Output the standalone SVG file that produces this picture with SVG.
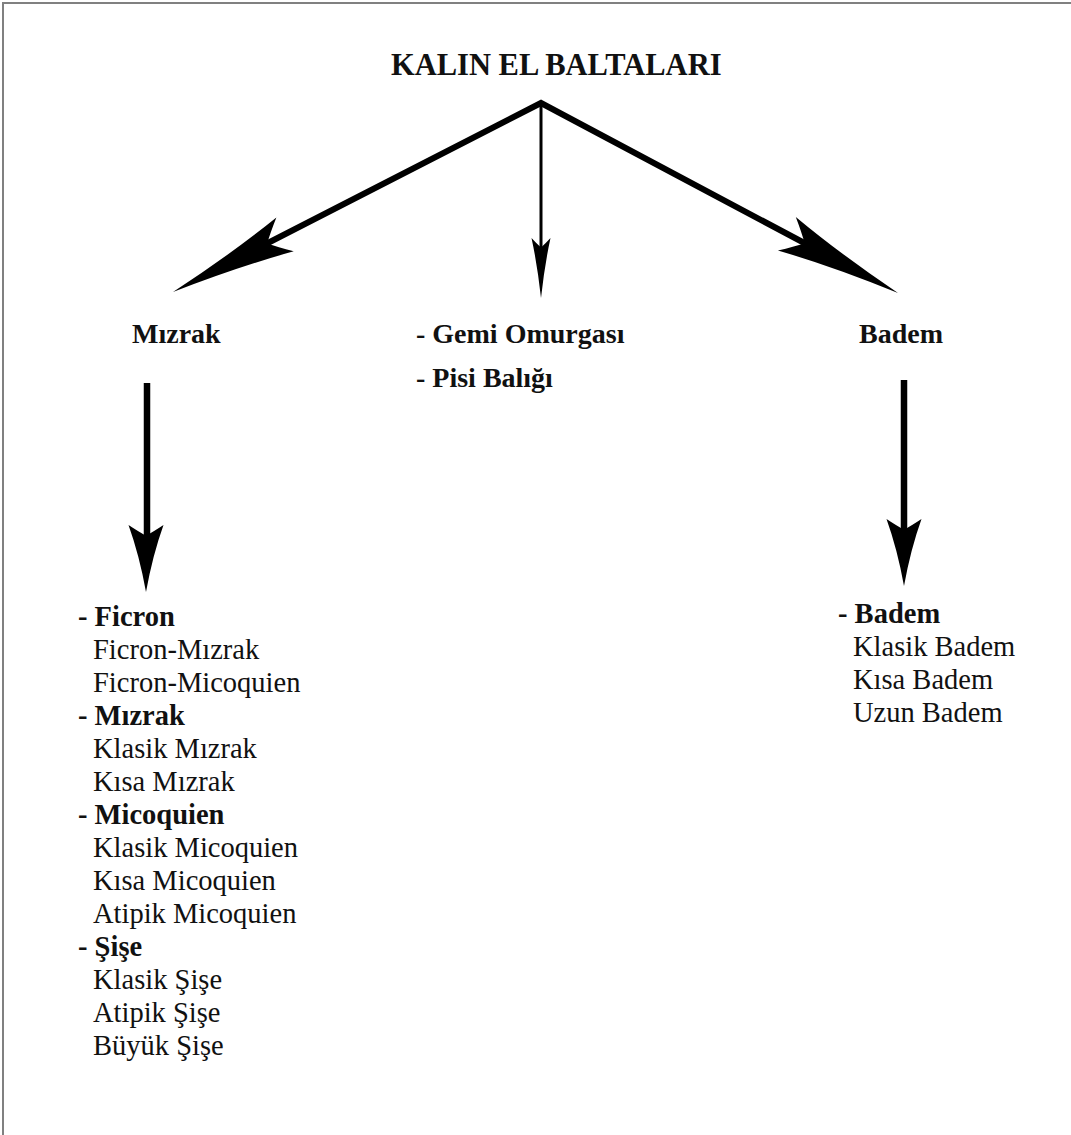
<svg xmlns="http://www.w3.org/2000/svg" xmlns:xlink="http://www.w3.org/1999/xlink" width="1071" height="1135" viewBox="0 0 1071 1135">
<style>
text{font-family:"Liberation Serif","Times New Roman",serif;fill:#111;}
.b{font-weight:bold;}
.t{font-size:30.5px;font-weight:bold;}
.lb{font-size:28px;font-weight:bold;}
.li{font-size:28.5px;}
.shaft{stroke:#000;fill:none;stroke-linejoin:miter;stroke-miterlimit:20;}
.head{fill:#000;}
</style>
<defs>
<path id="head" d="M0,0 Q-0.55,-0.38 -1,-1 Q-0.9,-0.42 -0.84,0 Q-0.9,0.42 -1,1 Q-0.55,0.38 0,0 Z"/>
</defs>
<rect width="1071" height="1135" fill="#fff"/>
<path d="M3,1135 V3 H1071" fill="none" stroke="#808080" stroke-width="2"/>

<g id="title"><text class="t" x="391" y="75">KALIN EL BALTALARI</text></g>

<g id="connectors">
<path class="shaft" stroke-width="6" d="M262,246 L541,103 L810,246"/>
<path class="shaft" stroke-width="3" d="M541,103 V258"/>
<path class="shaft" stroke-width="6.5" d="M147,383 V545"/>
<path class="shaft" stroke-width="6.5" d="M904,380 V540"/>
<use href="#head" class="head" transform="translate(173,292) rotate(152.8) scale(126,19)"/>
<use href="#head" class="head" transform="translate(898,293) rotate(28.1) scale(126,19)"/>
<use href="#head" class="head" transform="translate(541,298) rotate(90) scale(60,9.5)"/>
<use href="#head" class="head" transform="translate(146,592) rotate(90) scale(67,17.5)"/>
<use href="#head" class="head" transform="translate(904,586) rotate(90) scale(67,17.5)"/>
</g>

<g id="node-mizrak"><text class="lb" x="132" y="343">Mızrak</text></g>
<g id="node-gemi">
<text class="lb" x="416" y="343">- Gemi Omurgası</text>
<text class="lb" x="416" y="387">- Pisi Balığı</text>
</g>
<g id="node-badem"><text class="lb" x="859" y="343">Badem</text></g>

<g id="list-left">
<text class="li b" x="78" y="626">- Ficron</text>
<text class="li" x="93" y="659">Ficron-Mızrak</text>
<text class="li" x="93" y="692">Ficron-Micoquien</text>
<text class="li b" x="78" y="725">- Mızrak</text>
<text class="li" x="93" y="758">Klasik Mızrak</text>
<text class="li" x="93" y="791">Kısa Mızrak</text>
<text class="li b" x="78" y="824">- Micoquien</text>
<text class="li" x="93" y="857">Klasik Micoquien</text>
<text class="li" x="93" y="890">Kısa Micoquien</text>
<text class="li" x="93" y="923">Atipik Micoquien</text>
<text class="li b" x="78" y="956">- Şişe</text>
<text class="li" x="93" y="989">Klasik Şişe</text>
<text class="li" x="93" y="1022">Atipik Şişe</text>
<text class="li" x="93" y="1055">Büyük Şişe</text>
</g>

<g id="list-right">
<text class="li b" x="838" y="623">- Badem</text>
<text class="li" x="853" y="656">Klasik Badem</text>
<text class="li" x="853" y="689">Kısa Badem</text>
<text class="li" x="853" y="722">Uzun Badem</text>
</g>
</svg>
